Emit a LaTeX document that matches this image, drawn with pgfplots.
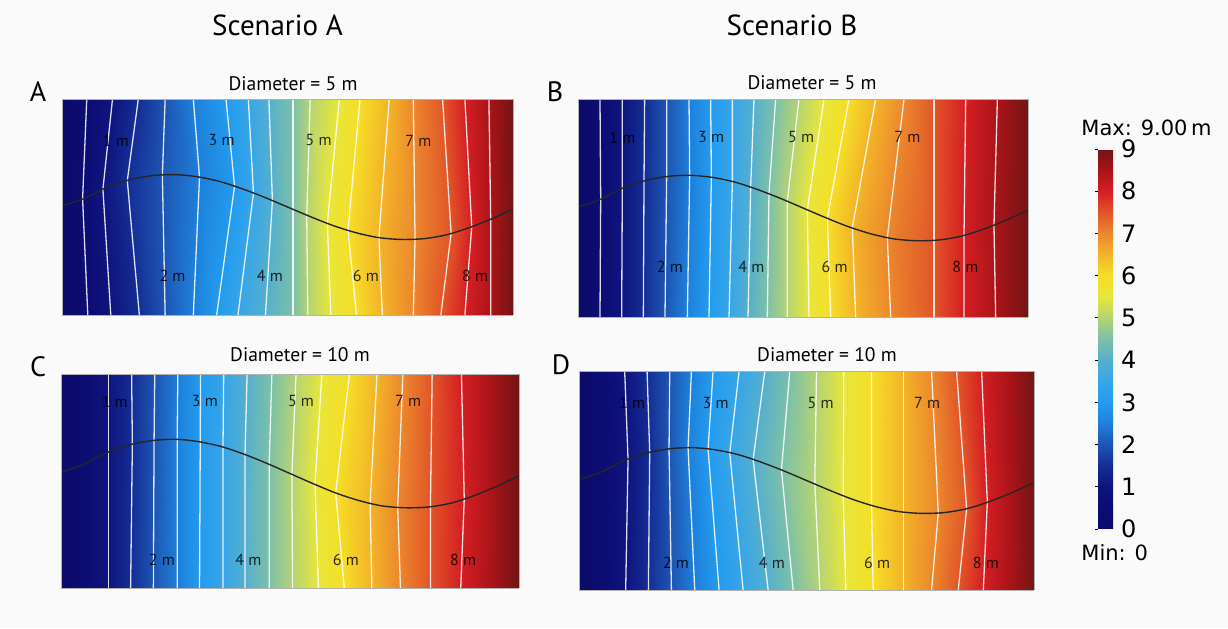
\documentclass[border=0pt]{standalone}
\usepackage{fontspec}
\setmainfont{PT Sans}
\newfontfamily\dejavu{DejaVu Sans}
\usepackage{pgfplots}
\pgfplotsset{compat=1.18}
\definecolor{bg}{RGB}{250,250,250}
\pgfplotsset{
  colormap={comsol}{
    rgb255(0cm)=(12,10,105); rgb255(1cm)=(12,12,115); rgb255(2cm)=(15,20,125);
    rgb255(3cm)=(20,45,148); rgb255(4cm)=(30,85,178); rgb255(5cm)=(30,128,218);
    rgb255(6cm)=(35,155,238); rgb255(7cm)=(55,165,232); rgb255(8cm)=(85,175,205);
    rgb255(9cm)=(125,192,168); rgb255(10cm)=(180,212,115); rgb255(11cm)=(232,230,58);
    rgb255(12cm)=(245,222,40); rgb255(13cm)=(243,180,40); rgb255(14cm)=(235,135,45);
    rgb255(15cm)=(225,85,40); rgb255(16cm)=(212,30,35); rgb255(17cm)=(170,20,25);
    rgb255(18cm)=(115,20,20)},
  panel/.style={view={0}{90}, scale only axis, anchor=center,
    xmin=0, xmax=100, ymin=0, ymax=100,
    xtick=\empty, ytick=\empty, ztick=\empty,
    colormap name=comsol, point meta min=0, point meta max=9,
    axis line style={black!30, line width=0.4pt}},
  cl/.style={white, opacity=0.85, line width=0.65pt, no marks},
  bl/.style={black!85, line width=0.7pt, smooth, no marks},
  fld/.style={surf, shader=interp, mesh/ordering=y varies, mesh/rows=3},
}
\tikzset{lab/.style={font=\fontsize{8}{9}\selectfont, text=black, opacity=0.8},
  plet/.style={font=\fontsize{14}{16}\selectfont}}
\begin{document}
\begin{tikzpicture}
\fill[bg] (0,0) rectangle (614pt,314pt);
\node[font=\fontsize{14.5}{16}\selectfont] at (138.75pt,301.5pt) {Scenario A};
\node[font=\fontsize{14.5}{16}\selectfont] at (396pt,301.5pt) {Scenario B};
\node[plet] at (19pt,268pt) {A};
\node[plet] at (277.5pt,268pt) {B};
\node[plet] at (19pt,130.5pt) {C};
\node[plet] at (280.5pt,131.5pt) {D};
\node[font=\fontsize{9.8}{11}\selectfont] at (146.5pt,272pt) {Diameter = 5 m};
\node[font=\fontsize{9.8}{11}\selectfont] at (406pt,272.5pt) {Diameter = 5 m};
\node[font=\fontsize{9.8}{11}\selectfont] at (150pt,136.5pt) {Diameter = 10 m};
\node[font=\fontsize{9.8}{11}\selectfont] at (413.5pt,136.5pt) {Diameter = 10 m};
\node[font=\dejavu\fontsize{10.5}{12}\selectfont, anchor=west, inner sep=0pt] at (540.5pt,250pt) {Max: 9.00\,m};
\node[font=\dejavu\fontsize{10.5}{12}\selectfont, anchor=west, inner sep=0pt] at (540.5pt,37.5pt) {Min: 0};

% ---------------- Panel A ----------------
\begin{axis}[panel, at={(143.75pt,210.5pt)}, width=225.5pt, height=108pt]
\addplot3[fld, mesh/cols=19] table {
x y z
0 100 0
0 50.5 0
0 0 0
5.49 100 0.5
4.57 53.7 0.5
5.72 0 0.5
11.20 100 1
9.07 58.2 1
10.82 0 1
16.92 100 1.5
14.48 62.2 1.5
17.15 0 1.5
22.87 100 2
22.26 64.7 2
22.87 0 2
29.12 100 2.5
30.49 63.8 2.5
29.12 0 2.5
36.36 100 3
38.26 59.6 3
34.30 0 3
41.31 100 3.5
42.45 56.4 3.5
39.02 0 3.5
45.88 100 4
46.65 52.9 4
45.12 0 4
51.22 100 4.5
51.22 48.9 4.5
51.22 0 4.5
55.03 100 5
54.27 46.2 5
54.50 0 5
61.51 100 5.5
58.84 42.5 5.5
59.60 0 5.5
66.08 100 6
63.41 39.25 6
65.30 0 6
72.56 100 6.5
70.27 35.85 6.5
71.04 0 6.5
77.90 100 7
78.28 35.2 7
77.90 0 7
84.38 100 7.5
86.28 37.8 7.5
84.00 0 7.5
89.33 100 8
90.85 40.9 8
89.33 0 8
94.66 100 8.5
95.05 44.3 8.5
95.05 0 8.5
100 100 9
100 49.0 9
100 0 9
};
\addplot3[cl] coordinates {(5.49,100,0) (4.57,53.7,0) (5.72,0,0)};
\addplot3[cl] coordinates {(11.20,100,0) (9.07,58.2,0) (10.82,0,0)};
\addplot3[cl] coordinates {(16.92,100,0) (14.48,62.2,0) (17.15,0,0)};
\addplot3[cl] coordinates {(22.87,100,0) (22.26,64.7,0) (22.87,0,0)};
\addplot3[cl] coordinates {(29.12,100,0) (30.49,63.8,0) (29.12,0,0)};
\addplot3[cl] coordinates {(36.36,100,0) (38.26,59.6,0) (34.30,0,0)};
\addplot3[cl] coordinates {(41.31,100,0) (42.45,56.4,0) (39.02,0,0)};
\addplot3[cl] coordinates {(45.88,100,0) (46.65,52.9,0) (45.12,0,0)};
\addplot3[cl] coordinates {(51.22,100,0) (51.22,48.9,0) (51.22,0,0)};
\addplot3[cl] coordinates {(55.03,100,0) (54.27,46.2,0) (54.50,0,0)};
\addplot3[cl] coordinates {(61.51,100,0) (58.84,42.5,0) (59.60,0,0)};
\addplot3[cl] coordinates {(66.08,100,0) (63.41,39.25,0) (65.30,0,0)};
\addplot3[cl] coordinates {(72.56,100,0) (70.27,35.85,0) (71.04,0,0)};
\addplot3[cl] coordinates {(77.90,100,0) (78.28,35.2,0) (77.90,0,0)};
\addplot3[cl] coordinates {(84.38,100,0) (86.28,37.8,0) (84.00,0,0)};
\addplot3[cl] coordinates {(89.33,100,0) (90.85,40.9,0) (89.33,0,0)};
\addplot3[cl] coordinates {(94.66,100,0) (95.05,44.3,0) (95.05,0,0)};
\addplot3[bl] coordinates {(0,50.5,0) (5,54.0,0) (10,59.2,0) (15,62.6,0) (20,64.5,0) (25,65.0,0) (30,64.0,0) (35,61.8,0) (40,58.4,0) (45,54.4,0) (50,50.0,0) (55,45.6,0) (60,41.5,0) (65,38.2,0) (70,35.9,0) (75,35.0,0) (80,35.3,0) (85,37.0,0) (90,40.2,0) (95,44.3,0) (100,49.0,0)};
\node[lab] at (axis cs:11.97,80.8,0) {1 m};
\node[lab] at (axis cs:24.5,18,0) {2 m};
\node[lab] at (axis cs:35.4,80.8,0) {3 m};
\node[lab] at (axis cs:46.1,18,0) {4 m};
\node[lab] at (axis cs:56.9,80.8,0) {5 m};
\node[lab] at (axis cs:67.4,18,0) {6 m};
\node[lab] at (axis cs:79.0,80.8,0) {7 m};
\node[lab] at (axis cs:91.6,18,0) {8 m};
\end{axis}

% ---------------- Panel B ----------------
\begin{axis}[panel, at={(401.5pt,210pt)}, width=225pt, height=109pt,
  colorbar,
  colorbar style={at={(parent axis.north east)}, anchor=north west,
    xshift=26.5pt, yshift=-25pt, scale only axis, width=7.5pt, height=190pt,
    ytick={0,1,...,9}, ytick pos=left, yticklabel pos=right,
    tick align=outside, major tick length=1.5pt,
    ytick style={black, line width=0.4pt},
    /pgf/number format/assume math mode=true,
    yticklabel style={font=\dejavu\fontsize{12}{14}\selectfont, xshift=-1pt},
    axis line style={draw=none}}]
\addplot3[fld, mesh/cols=19] table {
x y z
0 100 0
0 50.5 0
0 0 0
4.89 100 0.5
5.04 54.0 0.5
4.89 0 0.5
9.85 100 1
9.85 59.0 1
9.70 0 1
14.81 100 1.5
14.67 62.4 1.5
14.52 0 1.5
19.70 100 2
19.70 64.4 2
19.33 0 2
24.67 100 2.5
24.81 65.0 2.5
24.30 0 2.5
29.48 100 3
29.63 64.1 3
29.11 0 3
34.30 100 3.5
34.30 62.1 3.5
33.56 0 3.5
39.11 100 4
38.37 59.5 4
37.78 0 4
43.93 100 4.5
42.44 56.4 4.5
42.07 0 4.5
49.11 100 5
46.52 53.1 5
46.52 0 5
54.67 100 5.5
50.96 49.2 5.5
51.33 0 5.5
60.22 100 6
55.41 45.3 6
56.15 0 6
66.15 100 6.5
60.96 40.9 6.5
61.70 0 6.5
72.44 100 7
68.74 36.5 7
69.48 0 7
79.11 100 7.5
79.11 35.25 7.5
79.11 0 7.5
86.15 100 8
85.78 37.5 8
85.78 0 8
93.19 100 8.5
92.44 42.2 8.5
92.81 0 8.5
100 100 9
100 49.0 9
100 0 9
};
\addplot3[cl] coordinates {(4.89,100,0) (5.04,54.0,0) (4.89,0,0)};
\addplot3[cl] coordinates {(9.85,100,0) (9.85,59.0,0) (9.70,0,0)};
\addplot3[cl] coordinates {(14.81,100,0) (14.67,62.4,0) (14.52,0,0)};
\addplot3[cl] coordinates {(19.70,100,0) (19.70,64.4,0) (19.33,0,0)};
\addplot3[cl] coordinates {(24.67,100,0) (24.81,65.0,0) (24.30,0,0)};
\addplot3[cl] coordinates {(29.48,100,0) (29.63,64.1,0) (29.11,0,0)};
\addplot3[cl] coordinates {(34.30,100,0) (34.30,62.1,0) (33.56,0,0)};
\addplot3[cl] coordinates {(39.11,100,0) (38.37,59.5,0) (37.78,0,0)};
\addplot3[cl] coordinates {(43.93,100,0) (42.44,56.4,0) (42.07,0,0)};
\addplot3[cl] coordinates {(49.11,100,0) (46.52,53.1,0) (46.52,0,0)};
\addplot3[cl] coordinates {(54.67,100,0) (50.96,49.2,0) (51.33,0,0)};
\addplot3[cl] coordinates {(60.22,100,0) (55.41,45.3,0) (56.15,0,0)};
\addplot3[cl] coordinates {(66.15,100,0) (60.96,40.9,0) (61.70,0,0)};
\addplot3[cl] coordinates {(72.44,100,0) (68.74,36.5,0) (69.48,0,0)};
\addplot3[cl] coordinates {(79.11,100,0) (79.11,35.25,0) (79.11,0,0)};
\addplot3[cl] coordinates {(86.15,100,0) (85.78,37.5,0) (85.78,0,0)};
\addplot3[cl] coordinates {(93.19,100,0) (92.44,42.2,0) (92.81,0,0)};
\addplot3[bl] coordinates {(0,50.5,0) (5,54.0,0) (10,59.2,0) (15,62.6,0) (20,64.5,0) (25,65.0,0) (30,64.0,0) (35,61.8,0) (40,58.4,0) (45,54.4,0) (50,50.0,0) (55,45.6,0) (60,41.5,0) (65,38.2,0) (70,35.9,0) (75,35.0,0) (80,35.3,0) (85,37.0,0) (90,40.2,0) (95,44.3,0) (100,49.0,0)};
\node[lab] at (axis cs:9.85,82.4,0) {1 m};
\node[lab] at (axis cs:20.4,23,0) {2 m};
\node[lab] at (axis cs:29.6,82.4,0) {3 m};
\node[lab] at (axis cs:38.5,23,0) {4 m};
\node[lab] at (axis cs:49.6,82.4,0) {5 m};
\node[lab] at (axis cs:57.0,23,0) {6 m};
\node[lab] at (axis cs:73.2,82.4,0) {7 m};
\node[lab] at (axis cs:86.1,23,0) {8 m};
\end{axis}

% ---------------- Panel C ----------------
\begin{axis}[panel, at={(145pt,73.5pt)}, width=229pt, height=107pt]
\addplot3[fld, mesh/cols=17] table {
x y z
0 100 0
0 54.0 0
0 0 0
10.31 100 1
10.31 63.5 1
10.31 0 1
15.42 100 1.5
15.58 67.1 1.5
15.20 0 1.5
20.47 100 2
20.32 68.9 2
20.17 0 2
25.51 100 2.5
25.36 69.4 2.5
25.36 0 2.5
30.47 100 3
30.40 68.2 3
30.25 0 3
35.52 100 3.5
35.37 65.8 3.5
35.37 0 3.5
40.63 100 4
40.18 62.3 4
40.18 0 4
46.05 100 4.5
45.45 57.8 4.5
45.45 0 4.5
51.32 100 5
50.41 53.1 5
50.56 0 5
56.96 100 5.5
55.46 48.4 5.5
56.21 0 5.5
62.98 100 6
59.97 44.4 6
61.85 0 6
69.00 100 6.5
67.49 39.7 6.5
67.87 0 6.5
74.64 100 7
73.51 37.8 7
74.12 0 7
81.04 100 7.5
80.66 38.0 7.5
80.66 0 7.5
87.43 100 8
88.04 41.7 8
87.28 0 8
100 100 9
100 52.4 9
100 0 9
};
\addplot3[cl] coordinates {(10.31,100,0) (10.31,63.5,0) (10.31,0,0)};
\addplot3[cl] coordinates {(15.42,100,0) (15.58,67.1,0) (15.20,0,0)};
\addplot3[cl] coordinates {(20.47,100,0) (20.32,68.9,0) (20.17,0,0)};
\addplot3[cl] coordinates {(25.51,100,0) (25.36,69.4,0) (25.36,0,0)};
\addplot3[cl] coordinates {(30.47,100,0) (30.40,68.2,0) (30.25,0,0)};
\addplot3[cl] coordinates {(35.52,100,0) (35.37,65.8,0) (35.37,0,0)};
\addplot3[cl] coordinates {(40.63,100,0) (40.18,62.3,0) (40.18,0,0)};
\addplot3[cl] coordinates {(46.05,100,0) (45.45,57.8,0) (45.45,0,0)};
\addplot3[cl] coordinates {(51.32,100,0) (50.41,53.1,0) (50.56,0,0)};
\addplot3[cl] coordinates {(56.96,100,0) (55.46,48.4,0) (56.21,0,0)};
\addplot3[cl] coordinates {(62.98,100,0) (59.97,44.4,0) (61.85,0,0)};
\addplot3[cl] coordinates {(69.00,100,0) (67.49,39.7,0) (67.87,0,0)};
\addplot3[cl] coordinates {(74.64,100,0) (73.51,37.8,0) (74.12,0,0)};
\addplot3[cl] coordinates {(81.04,100,0) (80.66,38.0,0) (80.66,0,0)};
\addplot3[cl] coordinates {(87.43,100,0) (88.04,41.7,0) (87.28,0,0)};
\addplot3[bl] coordinates {(0,54.0,0) (5,57.8,0) (10,63.3,0) (15,66.9,0) (20,68.9,0) (25,69.5,0) (30,68.4,0) (35,66.1,0) (40,62.5,0) (45,58.2,0) (50,53.5,0) (55,48.8,0) (60,44.4,0) (65,40.9,0) (70,38.4,0) (75,37.5,0) (80,37.8,0) (85,39.6,0) (90,43.0,0) (95,47.4,0) (100,52.4,0)};
\node[lab] at (axis cs:11.7,87.2,0) {1 m};
\node[lab] at (axis cs:22.0,13.2,0) {2 m};
\node[lab] at (axis cs:31.4,87.2,0) {3 m};
\node[lab] at (axis cs:40.9,13.2,0) {4 m};
\node[lab] at (axis cs:52.4,87.2,0) {5 m};
\node[lab] at (axis cs:62.2,13.2,0) {6 m};
\node[lab] at (axis cs:75.8,87.2,0) {7 m};
\node[lab] at (axis cs:87.8,13.2,0) {8 m};
\end{axis}

% ---------------- Panel D ----------------
\begin{axis}[panel, at={(403.25pt,73.75pt)}, width=227.5pt, height=109.5pt]
\addplot3[fld, mesh/cols=17] table {
x y z
0 100 0
0 50.5 0
0 0 0
10.04 100 1
10.78 59.7 1
10.26 0 1
14.96 100 1.5
15.54 62.8 1.5
15.25 0 1.5
19.94 100 2
19.79 64.4 2
20.31 0 2
24.71 100 2.5
23.97 64.9 2.5
25.44 0 2.5
29.47 100 3
28.37 64.3 3
30.79 0 3
35.19 100 3.5
33.14 62.6 3.5
36.07 0 3.5
40.84 100 4
38.27 59.6 4
41.57 0 4
46.33 100 4.5
44.50 54.8 4.5
47.07 0 4.5
52.20 100 5
51.83 48.4 5
52.93 0 5
58.21 100 5.5
58.06 43.1 5.5
58.65 0 5.5
64.30 100 6
64.30 38.7 6
64.66 0 6
71.26 100 6.5
71.26 35.6 6.5
71.26 0 6.5
77.49 100 7
78.96 35.2 7
77.49 0 7
82.99 100 7.5
85.19 37.1 7.5
83.36 0 7.5
88.49 100 8
89.74 40.0 8
88.86 0 8
100 100 9
100 49.0 9
100 0 9
};
\addplot3[cl] coordinates {(10.04,100,0) (10.78,59.7,0) (10.26,0,0)};
\addplot3[cl] coordinates {(14.96,100,0) (15.54,62.8,0) (15.25,0,0)};
\addplot3[cl] coordinates {(19.94,100,0) (19.79,64.4,0) (20.31,0,0)};
\addplot3[cl] coordinates {(24.71,100,0) (23.97,64.9,0) (25.44,0,0)};
\addplot3[cl] coordinates {(29.47,100,0) (28.37,64.3,0) (30.79,0,0)};
\addplot3[cl] coordinates {(35.19,100,0) (33.14,62.6,0) (36.07,0,0)};
\addplot3[cl] coordinates {(40.84,100,0) (38.27,59.6,0) (41.57,0,0)};
\addplot3[cl] coordinates {(46.33,100,0) (44.50,54.8,0) (47.07,0,0)};
\addplot3[cl] coordinates {(52.20,100,0) (51.83,48.4,0) (52.93,0,0)};
\addplot3[cl] coordinates {(58.21,100,0) (58.06,43.1,0) (58.65,0,0)};
\addplot3[cl] coordinates {(64.30,100,0) (64.30,38.7,0) (64.66,0,0)};
\addplot3[cl] coordinates {(71.26,100,0) (71.26,35.6,0) (71.26,0,0)};
\addplot3[cl] coordinates {(77.49,100,0) (78.96,35.2,0) (77.49,0,0)};
\addplot3[cl] coordinates {(82.99,100,0) (85.19,37.1,0) (83.36,0,0)};
\addplot3[cl] coordinates {(88.49,100,0) (89.74,40.0,0) (88.86,0,0)};
\addplot3[bl] coordinates {(0,50.5,0) (5,54.0,0) (10,59.2,0) (15,62.6,0) (20,64.5,0) (25,65.0,0) (30,64.0,0) (35,61.8,0) (40,58.4,0) (45,54.4,0) (50,50.0,0) (55,45.6,0) (60,41.5,0) (65,38.2,0) (70,35.9,0) (75,35.0,0) (80,35.3,0) (85,37.0,0) (90,40.2,0) (95,44.3,0) (100,49.0,0)};
\node[lab] at (axis cs:11.7,85.5,0) {1 m};
\node[lab] at (axis cs:21.3,12.2,0) {2 m};
\node[lab] at (axis cs:30.0,85.5,0) {3 m};
\node[lab] at (axis cs:42.4,12.2,0) {4 m};
\node[lab] at (axis cs:53.1,85.5,0) {5 m};
\node[lab] at (axis cs:65.5,12.2,0) {6 m};
\node[lab] at (axis cs:76.5,85.5,0) {7 m};
\node[lab] at (axis cs:89.4,12.2,0) {8 m};
\end{axis}
\end{tikzpicture}
\end{document}
